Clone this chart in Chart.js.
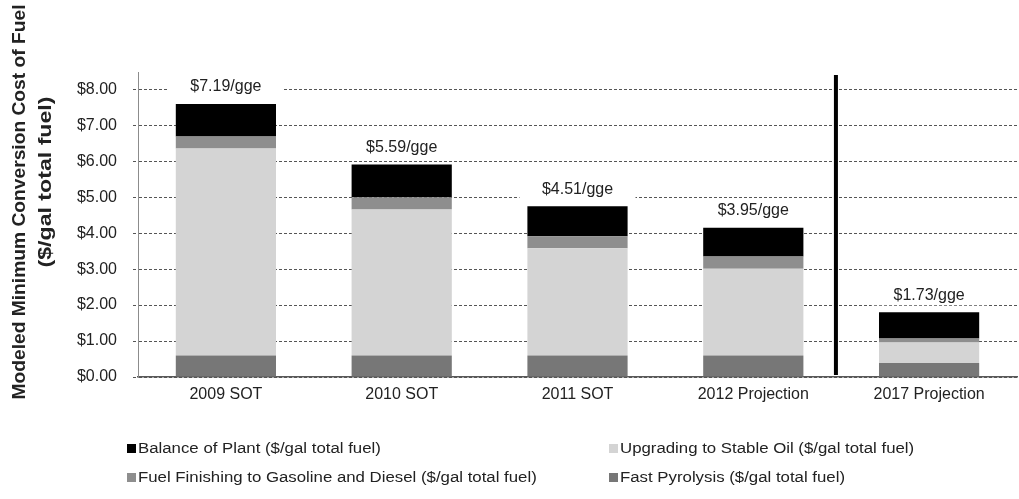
<!DOCTYPE html>
<html>
<head>
<meta charset="utf-8">
<script src="https://cdn.jsdelivr.net/npm/chart.js@4/dist/chart.umd.min.js"></script>
<style>
    body { margin: 0; background: #fff; }
    #wrap { position: relative; width: 1019px; height: 499px; }
    #legend {
        position: absolute; left: 127px; top: 437px;
        display: grid; grid-template-rows: 29px 29px; grid-auto-flow: column;
        grid-template-columns: 482px 300px;
        font-family: 'Liberation Sans', Arial, sans-serif; font-size: 14px; color: #222;
    }
    #legend .item { display: flex; align-items: center; height: 22px; }
    #legend .box { width: 9px; height: 9px; margin-right: 2px; flex: none; }
    #legend .txt { display: inline-block; transform: scaleX(1.2); transform-origin: left center; white-space: nowrap; }
</style>
</head>
<body>
<div id="wrap">
    <canvas id="costChart" width="1019" height="499"></canvas>
    <div id="legend"></div>
</div>
<script>
const categories = ['2009 SOT', '2010 SOT', '2011 SOT', '2012 Projection', '2017 Projection'];
const fastPyrolysis = [0.60, 0.60, 0.60, 0.60, 0.39];
const upgradingOil = [5.75, 4.06, 2.98, 2.41, 0.57];
const fuelFinishing = [0.34, 0.34, 0.33, 0.34, 0.11];
const balanceOfPlant = [0.90, 0.91, 0.84, 0.80, 0.73];
const totalLabels = ['$7.19/gge', '$5.59/gge', '$4.51/gge', '$3.95/gge', '$1.73/gge'];
const yTicks = [0, 1, 2, 3, 4, 5, 6, 7, 8];
const yMax = 8.48;

const fontFamily = "'Liberation Sans', Arial, sans-serif";

// labels over each stack, white box hides the gridlines behind them
const totalLabelPlugin = {
    id: 'totalLabels',
    afterDatasetsDraw(chart) {
        const ctx = chart.ctx;
        const x = chart.scales.x, y = chart.scales.y;
        ctx.save();
        ctx.font = '16px ' + fontFamily;
        ctx.textAlign = 'center';
        ctx.textBaseline = 'middle';
        categories.forEach((c, i) => {
            const sum = fastPyrolysis[i] + upgradingOil[i] + fuelFinishing[i] + balanceOfPlant[i];
            const px = x.getPixelForValue(i);
            const py = y.getPixelForValue(sum) - 17;
            ctx.fillStyle = '#fff';
            ctx.fillRect(px - 58, py - 10, 116, 20);
            ctx.fillStyle = '#222';
            ctx.fillText(totalLabels[i], px, py);
        });

        // divider between the state-of-technology bars and the 2017 target
        const dx = x.getPixelForValue(3.47);
        ctx.strokeStyle = '#000';
        ctx.lineWidth = 4;
        ctx.beginPath();
        ctx.moveTo(dx, chart.chartArea.top + 3);
        ctx.lineTo(dx, chart.chartArea.bottom - 2);
        ctx.stroke();
        ctx.restore();
    }
};

const yTitlePlugin = {
    id: 'yTitle',
    afterDraw(chart) {
        const ctx = chart.ctx;
        const lines = [
            { text: 'Modeled Minimum Conversion Cost of Fuel', x: 20, y: 202, len: 395 },
            { text: '($/gal total fuel)', x: 46, y: 182, len: 171 }
        ];
        ctx.save();
        ctx.font = 'bold 18px ' + fontFamily;
        ctx.fillStyle = '#222';
        ctx.textAlign = 'center';
        ctx.textBaseline = 'middle';
        lines.forEach(l => {
            const w = ctx.measureText(l.text).width;
            ctx.save();
            ctx.translate(l.x, l.y);
            ctx.rotate(-Math.PI / 2);
            ctx.scale(l.len / w, 1);
            ctx.fillText(l.text, 0, 0);
            ctx.restore();
        });
        ctx.restore();
    }
};

const ctx = document.getElementById('costChart').getContext('2d');
const costChart = new Chart(ctx, {
    type: 'bar',
    data: {
        labels: categories,
        datasets: [
            { label: 'Fast Pyrolysis ($/gal total fuel)', data: fastPyrolysis, backgroundColor: '#777777' },
            { label: 'Upgrading to Stable Oil ($/gal total fuel)', data: upgradingOil, backgroundColor: '#d4d4d4' },
            { label: 'Fuel Finishing to Gasoline and Diesel ($/gal total fuel)', data: fuelFinishing, backgroundColor: '#8e8e8e' },
            { label: 'Balance of Plant ($/gal total fuel)', data: balanceOfPlant, backgroundColor: '#000000' }
        ]
    },
    options: {
        responsive: false,
        animation: false,
        devicePixelRatio: 1,
        layout: { padding: { top: 72, right: 2, left: 0, bottom: 0 } },
        datasets: { bar: { barPercentage: 0.57, categoryPercentage: 1.0 } },
        plugins: { legend: { display: false }, tooltip: { enabled: false } },
        scales: {
            x: {
                stacked: true,
                grid: { display: false, drawTicks: false },
                border: { display: true, color: '#595959', width: 1.5 },
                ticks: { color: '#222', font: { family: fontFamily, size: 16 }, padding: 8, maxRotation: 0 },
                afterFit: s => { s.height = 122; }
            },
            y: {
                stacked: true,
                min: 0,
                max: yMax,
                grid: { color: '#555', lineWidth: 1, tickBorderDash: [3, 2], tickLength: 5 },
                border: { display: true, color: '#8c8c8c', width: 1, dash: [3, 2] },
                ticks: {
                    color: '#222',
                    padding: 16,
                    font: { family: fontFamily, size: 16 },
                    callback: v => '$' + v.toFixed(2)
                },
                afterBuildTicks: s => { s.ticks = yTicks.map(v => ({ value: v })); },
                afterFit: s => { s.width = 138; }
            }
        }
    },
    plugins: [totalLabelPlugin, yTitlePlugin]
});

// 2x2 legend, filled column by column like the original
const legendOrder = [3, 2, 1, 0];
document.getElementById('legend').innerHTML = legendOrder.map(i => {
    const ds = costChart.data.datasets[i];
    return `<div class="item"><span class="box" style="background:${ds.backgroundColor}"></span><span class="txt">${ds.label}</span></div>`;
}).join('');
</script>
</body>
</html>
